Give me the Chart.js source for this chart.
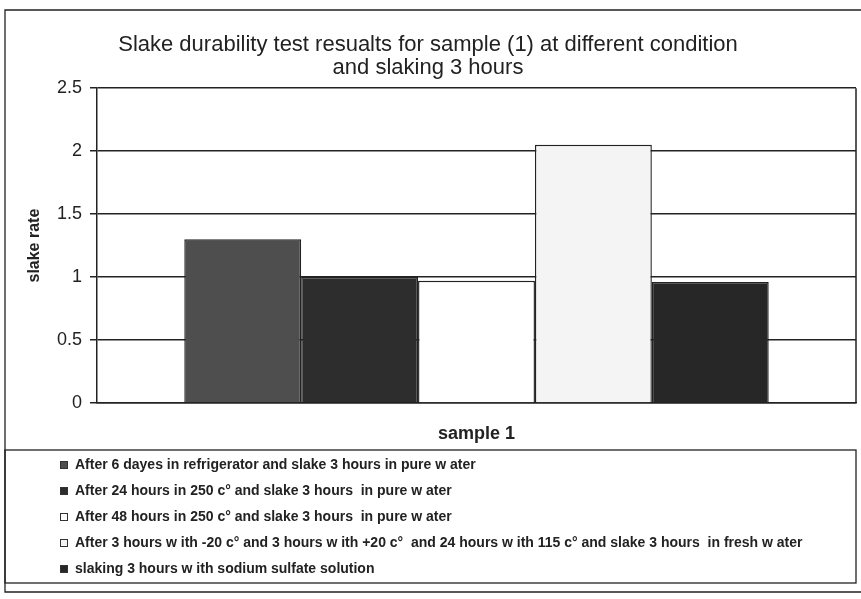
<!DOCTYPE html>
<html><head><meta charset="utf-8">
<script src="https://cdn.jsdelivr.net/npm/chart.js@4"></script>
<style>html,body{margin:0;padding:0;background:#fff;}#wrap{width:861px;height:599px;}</style>
</head><body><div id="wrap"><canvas id="c" width="861" height="599"></canvas></div>
<script>
const categories = ['sample 1'];
const seriesLabels = [
  'After 6 dayes in refrigerator and slake 3 hours in pure w ater',
  'After 24 hours in 250 c\u00b0 and slake 3 hours  in pure w ater',
  'After 48 hours in 250 c\u00b0 and slake 3 hours  in pure w ater',
  'After 3 hours w ith -20 c\u00b0 and 3 hours w ith +20 c\u00b0  and 24 hours w ith 115 c\u00b0 and slake 3 hours  in fresh w ater',
  'slaking 3 hours w ith sodium sulfate solution'
];
const series1 = [1.3];
const series2 = [1.0];
const series3 = [0.97];
const series4 = [2.05];
const series5 = [0.96];
const yTickValues = [0, 0.5, 1, 1.5, 2, 2.5];
const titleLines = ['Slake durability test resualts for sample (1) at different condition', 'and slaking 3 hours'];
const yTitle = 'slake rate';
const xTitle = 'sample 1';

const fills = ['#4e4e4e', '#2d2d2d', '#ffffff', '#f4f4f4', '#272727'];
const allSeries = [series1, series2, series3, series4, series5];
const INK = '#222';
const FONT = "'Liberation Sans', Arial, sans-serif";

const framePlugin = {
  id: 'frame',
  afterDraw(chart) {
    const ctx = chart.ctx, a = chart.chartArea;
    ctx.save();
    ctx.strokeStyle = INK;
    ctx.lineWidth = 1.5;
    ctx.beginPath();
    ctx.moveTo(a.right, a.top); ctx.lineTo(a.right, a.bottom);
    ctx.stroke();
    ctx.lineWidth = 1.3;
    ctx.beginPath();
    ctx.moveTo(861, 10); ctx.lineTo(5, 10); ctx.lineTo(5, 592); ctx.lineTo(861, 592);
    ctx.stroke();
    const bx = 5, by = 450, bw = 851, bh = 133;
    ctx.strokeRect(bx, by, bw, bh);
    ctx.font = 'bold 14px ' + FONT;
    ctx.textBaseline = 'middle';
    chart.data.datasets.forEach((ds, i) => {
      const y = 465 + i * 26;
      ctx.fillStyle = ds.backgroundColor;
      ctx.fillRect(60, y - 4, 8, 8);
      ctx.strokeStyle = '#333';
      ctx.lineWidth = 1;
      ctx.strokeRect(60.5, y - 3.5, 7, 7);
      ctx.fillStyle = INK;
      ctx.fillText(ds.label, 75, y);
    });
    ctx.restore();
  }
};

new Chart(document.getElementById('c'), {
  type: 'bar',
  data: {
    labels: categories,
    datasets: allSeries.map((s, i) => ({
      label: seriesLabels[i],
      data: s,
      backgroundColor: fills[i],
      borderColor: INK,
      borderWidth: 1.4,
      categoryPercentage: 0.77,
      barPercentage: 1.0
    }))
  },
  options: {
    responsive: false,
    animation: false,
    devicePixelRatio: 1,
    layout: { padding: { left: 0, right: 5, top: 0, bottom: 150 } },
    plugins: {
      legend: { display: false },
      tooltip: { enabled: false },
      title: {
        display: true,
        text: titleLines,
        color: INK,
        font: { family: FONT, size: 22, weight: 'normal', lineHeight: 1.05 },
        padding: { top: 33, bottom: 9 }
      }
    },
    scales: {
      x: {
        ticks: { display: false },
        grid: { display: false },
        border: { display: true, color: INK, width: 1.5 },
        title: {
          display: true, text: xTitle, color: INK,
          font: { family: FONT, size: 18, weight: 'bold' },
          padding: { top: 0, bottom: 4 }
        },
        afterFit(scale) { scale.height = 46; }
      },
      y: {
        min: 0, max: 2.5,
        afterBuildTicks(scale) { scale.ticks = yTickValues.map(v => ({ value: v })); },
        ticks: {
          color: INK, padding: 8,
          font: { family: FONT, size: 18 },
          callback: v => String(v)
        },
        grid: { color: INK, lineWidth: 1.5, tickLength: 7, drawTicks: true },
        border: { display: true, color: INK, width: 1.5 },
        title: {
          display: true, text: yTitle, color: INK,
          font: { family: FONT, size: 16, weight: 'bold' },
          padding: { top: 25, bottom: 0 }
        },
        afterFit(scale) { scale.width = 97; }
      }
    }
  },
  plugins: [framePlugin]
});
</script>
</body></html>
